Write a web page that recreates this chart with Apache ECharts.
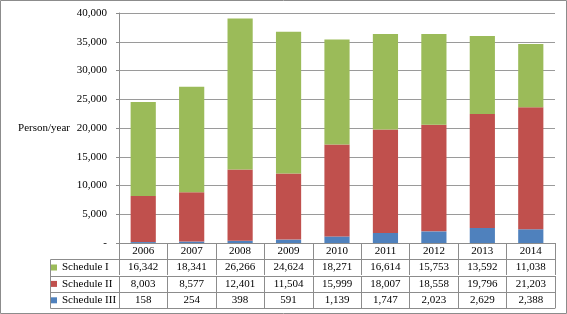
<!DOCTYPE html>
<html><head><meta charset="utf-8">
<script src="https://cdn.jsdelivr.net/npm/echarts@6/dist/echarts.min.js"></script>
<style>html,body{margin:0;padding:0;background:#fff}#c{width:567px;height:314px}</style>
</head><body><div id="c"></div>
<script>
var years = ['2006','2007','2008','2009','2010','2011','2012','2013','2014'];
var scheduleI = [16342, 18341, 26266, 24624, 18271, 16614, 15753, 13592, 11038];
var scheduleII = [8003, 8577, 12401, 11504, 15999, 18007, 18558, 19796, 21203];
var scheduleIII = [158, 254, 398, 591, 1139, 1747, 2023, 2629, 2388];
var yTicks = {min: 0, max: 40000, interval: 5000};

var FONT = '"Liberation Serif", "Times New Roman", serif';
var LINE = '#8c8c8c';
var fmt = function (v) { return v.toLocaleString('en-US'); };

function tableAxis(offset, values, showLabel) {
  return {
    type: 'category', data: years, position: 'bottom', offset: offset,
    axisLine: {show: true, lineStyle: {color: LINE, width: 1}},
    axisTick: {show: showLabel, length: 16, interval: 0, lineStyle: {color: LINE}},
    axisLabel: {show: showLabel, interval: 0, margin: 3, fontSize: 11, fontFamily: FONT, color: '#000',
      formatter: function (v, i) { return values ? fmt(values[i]) : v; }},
    splitLine: {show: false}
  };
}

var chart = echarts.init(document.getElementById('c'), null, {renderer: 'canvas'});
chart.setOption({
  animation: false,
  grid: {left: 119, right: 12, top: 13, bottom: 71, containLabel: false},
  legend: {
    orient: 'vertical', left: 51, top: 259.5, padding: 0, itemGap: 0.4,
    itemWidth: 6, itemHeight: 6, icon: 'rect', selectedMode: false,
    data: ['Schedule I', 'Schedule II', 'Schedule III'],
    textStyle: {fontSize: 11, fontFamily: FONT, color: '#000', lineHeight: 16, height: 16}
  },
  xAxis: [
    tableAxis(0, null, true),
    tableAxis(16, scheduleI, true),
    tableAxis(33, scheduleII, true),
    tableAxis(49, scheduleIII, true),
    tableAxis(65, null, false)
  ],
  yAxis: {
    type: 'value', min: yTicks.min, max: yTicks.max, interval: yTicks.interval,
    name: 'Person/year', nameLocation: 'middle', nameRotate: 0, nameGap: 49,
    nameTextStyle: {fontSize: 11, fontFamily: FONT, color: '#000', align: 'right'},
    axisLine: {show: true, lineStyle: {color: LINE}},
    axisTick: {show: true, length: 3, lineStyle: {color: LINE}},
    axisLabel: {fontSize: 11, fontFamily: FONT, color: '#000', margin: 12,
      formatter: function (v) { return v === 0 ? '-' : fmt(v); }},
    splitLine: {show: true, lineStyle: {color: '#9a9a9a'}}
  },
  series: [
    {name: 'Schedule III', type: 'bar', stack: 's', data: scheduleIII, barWidth: '52%', itemStyle: {color: '#4F81BD'}},
    {name: 'Schedule II', type: 'bar', stack: 's', data: scheduleII, barWidth: '52%', itemStyle: {color: '#C0504D'}},
    {name: 'Schedule I', type: 'bar', stack: 's', data: scheduleI, barWidth: '52%', itemStyle: {color: '#9BBB59'}}
  ],
  graphic: [
    {type: 'rect', shape: {x: 0.5, y: 0.5, width: 566, height: 313}, style: {fill: 'none', stroke: LINE, lineWidth: 1}, silent: true},
    {type: 'polyline', shape: {points: [[119, 259.5], [50.5, 259.5], [50.5, 308.5], [119, 308.5]]}, style: {fill: 'none', stroke: LINE, lineWidth: 1}, silent: true},
    {type: 'line', shape: {x1: 50.5, y1: 276.5, x2: 119, y2: 276.5}, style: {stroke: LINE, lineWidth: 1}, silent: true},
    {type: 'line', shape: {x1: 50.5, y1: 292.5, x2: 119, y2: 292.5}, style: {stroke: LINE, lineWidth: 1}, silent: true}
  ]
});
</script></body></html>
